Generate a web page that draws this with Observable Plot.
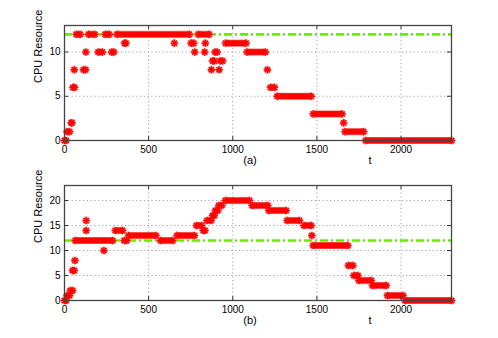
<!DOCTYPE html>
<html>
<head>
<meta charset="utf-8">
<script src="https://cdn.jsdelivr.net/npm/d3@7"></script>
<script src="https://cdn.jsdelivr.net/npm/@observablehq/plot@0.6"></script>
<style>
  html, body { margin: 0; padding: 0; background: #fff; }
  #chart { width: 498px; height: 338px; }
  #chart svg { display: block; }
</style>
</head>
<body>
<div id="chart"></div>
<script>
// ---- data (t ranges and values) ----
const xTicks = [0, 500, 1000, 1500, 2000];
const yTicksA = [0, 5, 10];
const yTicksB = [0, 5, 10, 15, 20];
const threshold = 12;
const tMax = 2300;

// panel (a): runs [tStart, tEnd, value]
const runsA = [
  [0, 10, 0], [15, 30, 1], [40, 44, 2], [50, 60, 6], [113, 125, 8],
  [70, 93, 12], [143, 180, 12], [200, 225, 10], [242, 266, 12], [280, 293, 10],
  [312, 742, 12], [357, 365, 11], [752, 768, 11], [795, 860, 12], [880, 890, 9],
  [895, 907, 10], [925, 940, 9], [957, 1079, 11], [1085, 1194, 10],
  [1224, 1248, 6], [1264, 1466, 5], [1478, 1650, 3], [1667, 1778, 1], [1790, 2300, 0]
];
// panel (a): isolated points [t, value]
const singlesA = [
  [58, 8], [127, 10], [653, 11], [774, 10], [833, 10], [837, 11],
  [873, 8], [919, 8], [1206, 8], [1659, 2]
];

// panel (b): runs [tStart, tEnd, value]
const runsB = [
  [0, 10, 0], [15, 30, 1], [35, 48, 2], [48, 58, 6], [64, 286, 12],
  [302, 345, 14], [355, 370, 12], [381, 543, 13], [570, 643, 12], [669, 772, 13],
  [784, 815, 15], [825, 835, 14], [847, 871, 16], [880, 890, 17], [897, 911, 18],
  [917, 935, 19], [956, 1099, 20], [1115, 1208, 19], [1214, 1317, 18],
  [1323, 1396, 16], [1423, 1466, 15], [1478, 1684, 11], [1687, 1714, 7],
  [1720, 1744, 5], [1750, 1823, 4], [1830, 1912, 3], [1919, 2012, 1], [2024, 2300, 0]
];
// panel (b): isolated points [t, value]
const singlesB = [
  [62, 8], [129, 16], [129, 14], [234, 10], [1470, 13]
];

// ---- drawing ----
const star8 = {
  draw(ctx, size) {
    const r = Math.sqrt(size / Math.PI);
    const d = r * Math.SQRT1_2;
    ctx.moveTo(0, -r); ctx.lineTo(0, r);
    ctx.moveTo(-r, 0); ctx.lineTo(r, 0);
    ctx.moveTo(-d, -d); ctx.lineTo(d, d);
    ctx.moveTo(-d, d); ctx.lineTo(d, -d);
  }
};

const W = 498, H = 169, ML = 64, MR = 47;
const FW = W - ML - MR, FH = 115;
const font = "'Liberation Sans', Arial, Helvetica, sans-serif";
const fmt = d3.format("d");

function panel(runs, singles, yMax, yTicks, tag, marginTop, marginBottom) {
  const ends = runs.flatMap(d => [[d[0], d[2]], [d[1], d[2]]]);
  const pts = ends.concat(singles);
  return Plot.plot({
    width: W, height: H,
    marginLeft: ML, marginRight: MR, marginTop, marginBottom,
    style: { fontFamily: font, fontSize: "10px", background: "#fff", color: "#000" },
    x: { domain: [0, tMax], label: null },
    y: { domain: [0, yMax], label: null },
    marks: [
      Plot.gridX(xTicks, { stroke: "#999", strokeOpacity: 1, strokeWidth: 0.9, strokeDasharray: "1.2,2.6" }),
      Plot.gridY(yTicks, { stroke: "#999", strokeOpacity: 1, strokeWidth: 0.9, strokeDasharray: "1.2,2.6" }),
      Plot.ruleY([threshold], { x1: 0, x2: tMax, stroke: "#66ee00", strokeWidth: 2.6, strokeDasharray: "8,3,2,3" }),
      // halo
      Plot.link(runs, { x1: d => d[0], x2: d => d[1], y1: d => d[2], y2: d => d[2], stroke: "#ff8080", strokeWidth: 7.2, strokeLinecap: "butt" }),
      Plot.dot(pts, { x: d => d[0], y: d => d[1], symbol: star8, r: 3.9, stroke: "#ff8080", strokeWidth: 2.2, fill: "none" }),
      // core
      Plot.link(runs, { x1: d => d[0], x2: d => d[1], y1: d => d[2], y2: d => d[2], stroke: "#ff0000", strokeWidth: 5.8, strokeLinecap: "butt" }),
      Plot.dot(pts, { x: d => d[0], y: d => d[1], symbol: star8, r: 3.6, stroke: "#ff0000", strokeWidth: 1.3, fill: "none" }),
      // inward ticks
      Plot.tickX(xTicks, { x: d => d, insetTop: FH - 4, stroke: "#333" }),
      Plot.tickX(xTicks, { x: d => d, insetBottom: FH - 4, stroke: "#333" }),
      Plot.tickY(yTicks, { y: d => d, insetRight: FW - 4, stroke: "#333" }),
      Plot.tickY(yTicks, { y: d => d, insetLeft: FW - 4, stroke: "#333" }),
      Plot.frame({ stroke: "#444", strokeWidth: 1.3 }),
      Plot.axisX(xTicks, { tickSize: 0, tickPadding: 5, fontSize: 10, label: null, tickFormat: fmt }),
      Plot.axisY(yTicks, { tickSize: 0, tickPadding: 4, fontSize: 10, label: null, tickFormat: fmt }),
      Plot.text(["CPU Resource"], { frameAnchor: "left", dx: -26, rotate: -90, fontSize: 11, fill: "#000" }),
      Plot.text([tag], { frameAnchor: "bottom", dx: -8, dy: 23, fontSize: 11, fill: "#000" }),
      Plot.text(["t"], { frameAnchor: "bottom", dx: 112, dy: 23, fontSize: 11, fill: "#000" })
    ]
  });
}

const root = document.getElementById("chart");
root.appendChild(panel(runsA, singlesA, 13, yTicksA, "(a)", 25, 29));
root.appendChild(panel(runsB, singlesB, 23, yTicksB, "(b)", 16, 38));
</script>
</body>
</html>
